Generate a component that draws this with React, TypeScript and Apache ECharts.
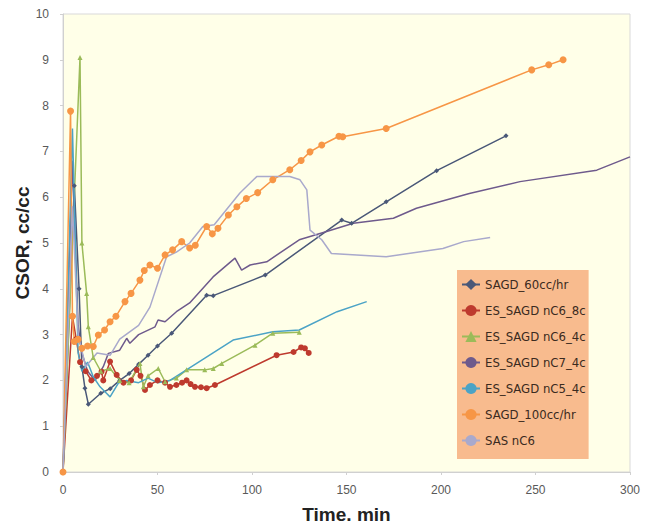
import React, { useEffect, useRef } from "react";
import * as echarts from "echarts";

const seriesNames = [
  "SAGD_60cc/hr",
  "ES_SAGD nC6_8cc",
  "ES_SAGD nC6_4cc",
  "ES_SAGD nC7_4cc",
  "ES_SAGD nC5_4cc",
  "SAGD_100cc/hr",
  "SAS nC6",
];

const sagd60: number[][] = [
  [0, 0], [6, 6.25], [8.5, 4.0], [10, 2.3], [11.6, 1.83], [13.4, 1.48], [20, 1.72], [25, 1.82],
  [30, 2.0], [35, 2.15], [40, 2.35], [45, 2.55], [50, 2.75], [57.5, 3.03], [76, 3.86], [79.5, 3.85],
  [107, 4.3], [147.5, 5.5], [152.7, 5.43], [171, 5.9], [197.7, 6.58], [234.4, 7.34],
];

const nC6_8cc: number[][] = [
  [0, 0], [5, 3.4], [7, 2.9], [9, 2.4], [12, 2.2], [15, 2.0], [18, 2.1], [20.4, 2.19], [21.3, 2.0],
  [24.9, 2.41], [28.4, 2.12], [32, 1.95], [36, 2.0], [39, 2.23], [41, 2.1], [43.4, 1.79], [46, 1.9],
  [50, 2.0], [54, 1.95], [56.6, 1.86], [60, 1.9], [63, 1.95], [65.4, 2.0], [67.5, 1.92], [69.8, 1.86],
  [73, 1.85], [76, 1.83], [80.4, 1.9], [113, 2.55], [122, 2.62], [126, 2.72], [128, 2.7], [130, 2.6],
];

const nC6_4cc: number[][] = [
  [0, 0], [9, 9.05], [10, 5.0], [12.5, 3.9], [13.4, 3.17], [16, 2.5], [20, 2.2], [24.9, 2.26],
  [30, 2.0], [35, 1.95], [40.7, 2.37], [42.5, 1.86], [45, 2.1], [50.4, 2.26], [54, 1.97], [60, 2.05],
  [65.4, 2.23], [75, 2.23], [79.5, 2.26], [84, 2.37], [101.6, 2.77], [111, 3.03], [125, 3.05],
];

const nC7_4cc: number[][] = [
  [0, 0], [5, 6.8], [8, 3.2], [10, 2.6], [13, 2.2], [17, 2.0], [21.3, 2.3], [24, 2.59], [30, 2.66],
  [33.7, 2.92], [35.4, 2.81], [40, 3.0], [48.7, 3.17], [50.3, 3.32], [54, 3.28], [60, 3.5], [67, 3.69],
  [79.4, 4.26], [91, 4.67], [94.5, 4.41], [99, 4.52], [107.8, 4.59], [125, 5.07], [139.5, 5.25],
  [153.6, 5.43], [174.8, 5.54], [187, 5.76], [215, 6.08], [241.8, 6.34], [282.4, 6.59], [300, 6.88],
];

const nC5_4cc: number[][] = [
  [0, 0], [5, 7.5], [8, 2.6], [10, 2.2], [13, 2.4], [16, 2.08], [19.6, 1.86], [23, 1.72], [24.9, 1.64],
  [29.3, 1.94], [33.7, 2.0], [40, 1.95], [45, 2.05], [50, 1.95], [56.6, 2.0], [90, 2.88], [111, 3.06],
  [125, 3.1], [145, 3.5], [160.7, 3.72],
];

const sagd100: number[][] = [
  [0, 0], [4, 7.88], [5, 3.4], [6, 2.85], [8, 2.9], [10, 2.7], [13, 2.75], [16, 2.74], [18.7, 2.99],
  [22, 3.1], [24.9, 3.28], [28, 3.4], [32.8, 3.72], [36, 3.9], [40.7, 4.19], [43, 4.4], [46, 4.52],
  [50, 4.45], [54, 4.74], [58, 4.85], [62.8, 5.03], [67, 4.89], [70, 4.95], [76, 5.36], [79, 5.2],
  [82, 5.32], [87.5, 5.61], [92, 5.79], [97, 5.97], [103, 6.1], [111, 6.38], [120, 6.6], [126, 6.8],
  [130.7, 6.99], [136.9, 7.14], [146, 7.33], [148, 7.32], [171, 7.5], [248, 8.78], [257, 8.89], [264.6, 9.0],
];

const sasNC6: number[][] = [
  [0, 0], [5, 5.8], [8, 3.0], [12, 2.3], [18, 2.6], [25, 2.55], [30, 2.9], [40, 3.2], [46, 3.6],
  [54.8, 4.7], [60, 4.8], [67, 5.0], [74, 5.36], [80, 5.4], [93.6, 6.09], [102.5, 6.45], [120, 6.45],
  [125.4, 6.38], [129, 6.16], [130.7, 5.28], [136.9, 5.07], [142, 4.77], [171, 4.7], [201, 4.88],
  [212, 5.03], [226, 5.12],
];

const colors = ["#4A5878", "#BE3A2E", "#9BBB59", "#6E5A8C", "#4BA3C6", "#F79646", "#A9A9CC"];
const symbols = ["diamond", "circle", "triangle", "none", "none", "circle", "none"];
const symbolSizes = [5, 6, 5, 0, 0, 7, 0];
const dataSets = [sagd60, nC6_8cc, nC6_4cc, nC7_4cc, nC5_4cc, sagd100, sasNC6];

export default function App() {
  const ref = useRef<HTMLDivElement>(null);
  useEffect(() => {
    if (!ref.current) return;
    const chart = echarts.init(ref.current, null, { renderer: "svg" });
    chart.setOption({
      animation: false,
      backgroundColor: "#ffffff",
      grid: {
        left: 63,
        top: 14,
        right: 23,
        bottom: 57,
        containLabel: false,
        outerBoundsMode: "none",
        show: true,
        backgroundColor: "#FFFFE8",
        borderColor: "#D9D9D9",
        borderWidth: 1,
      },
      legend: {
        orient: "vertical",
        left: 457,
        top: 270,
        backgroundColor: "#F8BB8E",
        padding: [8, 3, 12, 4],
        itemGap: 13,
        itemWidth: 18,
        itemHeight: 14,
        textStyle: {
          fontFamily: "DejaVu Sans Condensed, Liberation Sans, Arial, sans-serif",
          fontSize: 13,
          color: "#3A2A20",
          width: 102,
          overflow: "truncate",
          ellipsis: "",
        },
        data: seriesNames,
      },
      xAxis: {
        type: "value",
        min: 0,
        max: 300,
        interval: 50,
        name: "Time, min",
        nameLocation: "middle",
        nameGap: 33,
        nameMoveOverlap: false,
        nameTextStyle: { fontFamily: "Liberation Sans, Arial, sans-serif", fontWeight: "bold", fontSize: 19, color: "#222" },
        axisLine: { show: true, lineStyle: { color: "#D0D0D0" } },
        axisTick: { show: true, length: 3, lineStyle: { color: "#D0D0D0" } },
        axisLabel: { color: "#595959", fontSize: 12, fontFamily: "Liberation Sans, sans-serif", margin: 12 },
        splitLine: { show: false },
      },
      yAxis: {
        type: "value",
        min: 0,
        max: 10,
        interval: 1,
        name: "CSOR, cc/cc",
        nameLocation: "middle",
        nameGap: 31,
        nameMoveOverlap: false,
        nameTextStyle: { fontFamily: "Liberation Sans, Arial, sans-serif", fontWeight: "bold", fontSize: 19, color: "#222" },
        axisLine: { show: true, lineStyle: { color: "#D0D0D0" } },
        axisTick: { show: true, length: 3, lineStyle: { color: "#D0D0D0" } },
        axisLabel: { color: "#595959", fontSize: 12, fontFamily: "Liberation Sans, sans-serif", margin: 14 },
        splitLine: { show: false },
      },
      series: seriesNames.map((name, i) => ({
        name,
        type: "line",
        data: dataSets[i],
        color: colors[i],
        symbol: symbols[i],
        symbolSize: symbolSizes[i],
        showSymbol: symbols[i] !== "none",
        lineStyle: { width: 1.5, color: colors[i] },
        itemStyle: { color: colors[i] },
      })),
    });
    return () => chart.dispose();
  }, []);
  return <div ref={ref} style={{ width: 653, height: 529, margin: -8 }} />;
}
